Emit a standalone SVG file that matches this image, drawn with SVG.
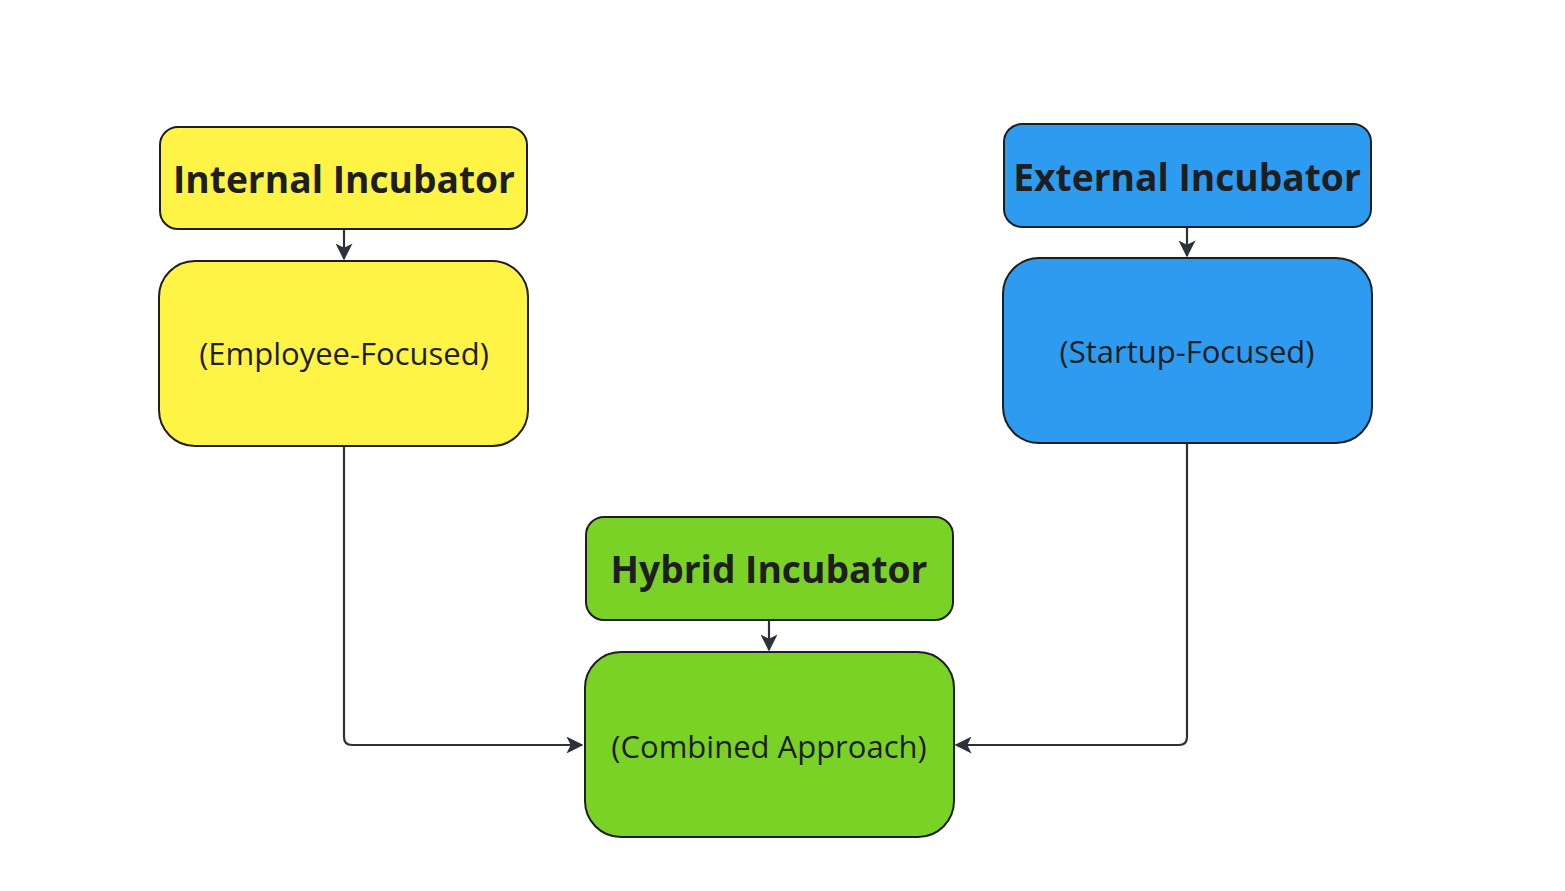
<svg xmlns="http://www.w3.org/2000/svg" width="1565" height="891" viewBox="0 0 1565 891">
<defs>
<marker id="ah" viewBox="0 0 12 12" refX="11" refY="6" markerWidth="17" markerHeight="17" markerUnits="userSpaceOnUse" orient="auto">
<path d="M0,0 L12,6 L0,12 L3,6 Z" fill="#2b323b"/>
</marker>
<style>
.box{stroke:#1e1e1e;stroke-width:2}
.y{fill:#fff445}.b{fill:#2d9bf0}.g{fill:#7bd226}
.t{font-family:"Open Sans","Noto Sans",sans-serif;font-weight:bold;font-size:37.2px;fill:#1e1e1e;text-anchor:middle}
.s{font-family:"Open Sans","Noto Sans",sans-serif;font-size:31px;fill:#1e1e1e;text-anchor:middle}
.c{fill:none;stroke:#2b323b;stroke-width:2.2;marker-end:url(#ah)}
</style>
</defs>
<rect width="1565" height="891" fill="#fff"/>
<g id="connectors">
<path class="c" d="M344,230 V259"/>
<path class="c" d="M1187,227 V256"/>
<path class="c" d="M769,620 V650"/>
<path class="c" d="M344,446 V737 Q344,745 352,745 H582"/>
<path class="c" d="M1187,443 V737 Q1187,745 1179,745 H956"/>
</g>
<g id="internal">
<rect class="box y" x="160" y="127" width="367" height="102" rx="18"/>
<text class="t" x="344" y="193">Internal Incubator</text>
</g>
<g id="employee">
<rect class="box y" x="159" y="261" width="369" height="185" rx="36"/>
<text class="s" x="344" y="365">(Employee-Focused)</text>
</g>
<g id="external">
<rect class="box b" x="1004" y="124" width="367" height="103" rx="18"/>
<text class="t" x="1187" y="191">External Incubator</text>
</g>
<g id="startup">
<rect class="box b" x="1003" y="258" width="369" height="185" rx="36"/>
<text class="s" x="1187" y="363">(Startup-Focused)</text>
</g>
<g id="hybrid">
<rect class="box g" x="586" y="517" width="367" height="103" rx="18"/>
<text class="t" x="769" y="583">Hybrid Incubator</text>
</g>
<g id="combined">
<rect class="box g" x="585" y="652" width="369" height="185" rx="36"/>
<text class="s" x="769" y="758">(Combined Approach)</text>
</g>
</svg>
